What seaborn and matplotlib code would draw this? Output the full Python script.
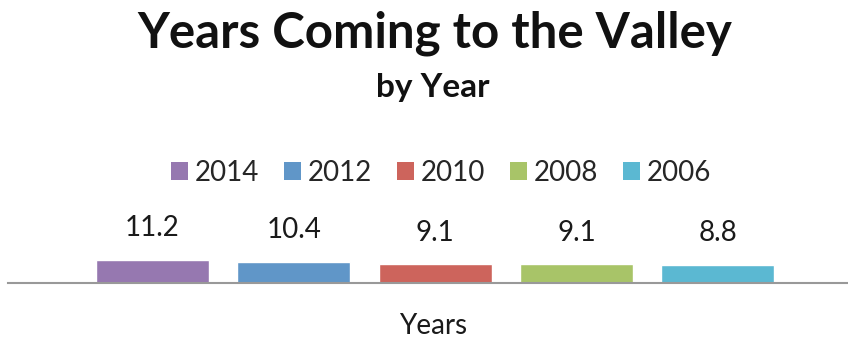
import matplotlib
matplotlib.use("Agg")
import matplotlib.pyplot as plt
import seaborn as sns
import pandas as pd
from matplotlib.patches import Patch

series = ["2014", "2012", "2010", "2008", "2006"]
values = [11.2, 10.4, 9.1, 9.1, 8.8]
colors = ["#9678B0", "#6096C8", "#CD645C", "#A8C468", "#5BB8D2"]
title = "Years Coming to the Valley"
subtitle = "by Year"
xlabel = "Years"

sns.set_theme(style="white")
plt.rcParams['font.family'] = ['Lato', 'DejaVu Sans']

df = pd.DataFrame({"series": series, "value": values})

fig = plt.figure(figsize=(8.48, 3.41), dpi=100)
ax = fig.add_axes([8/848, (341-283)/341, 840/848, 90/341])
sns.barplot(data=df, x="series", y="value", hue="series", palette=colors,
            order=series, hue_order=series, dodge=False, width=0.8, ax=ax,
            legend=False, saturation=1)
ax.set_xlim(-1.02, 4.92)
ax.set_ylim(0, 44)
for i, v in enumerate(values):
    ax.annotate(f"{v}", xy=(i, v), xytext=(0, 17), textcoords="offset points",
                ha="center", va="baseline", fontsize=20, color="#1a1a1a")
ax.set_xticks([])
ax.set_yticks([])
ax.set_xlabel("")
ax.set_ylabel("")
for s in ["top", "right", "left"]:
    ax.spines[s].set_visible(False)
ax.spines["bottom"].set_color("#999999")
ax.spines["bottom"].set_linewidth(1.5)

fig.text(0.513, 1 - 47/341, title, ha="center", va="baseline", fontsize=35.5, fontweight="bold", color="#111111")
fig.text(0.51, 1 - 97/341, subtitle, ha="center", va="baseline", fontsize=24, fontweight="bold", color="#111111")
fig.text(0.511, 1 - 334/341, xlabel, ha="center", va="baseline", fontsize=20, color="#1a1a1a")

handles = [Patch(facecolor=c, edgecolor="none") for c in colors]
fig.legend(handles, series, loc="center", bbox_to_anchor=(441/848, 1 - 173/341), ncol=5,
           frameon=False, fontsize=20, handlelength=0.6, handleheight=0.6,
           handletextpad=0.25, columnspacing=0.9, borderpad=0, borderaxespad=0)

fig.savefig("out.png", dpi=100)
